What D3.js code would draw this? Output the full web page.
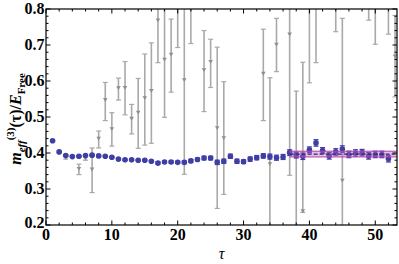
<!DOCTYPE html>
<html>
<head>
<meta charset="utf-8">
<script src="https://cdn.jsdelivr.net/npm/d3@7"></script>
<style>
  body { margin: 0; background: #fff; }
  text { font-family: "Liberation Serif", "Times New Roman", "DejaVu Serif", serif; }
</style>
</head>
<body>
<div id="chart"></div>
<script>
// blue series: m_eff / E_free per tau
var tau = [1, 2, 3, 4, 5, 6, 7, 8, 9, 10, 11, 12, 13, 14, 15, 16, 17, 18, 19, 20,
  21, 22, 23, 24, 25, 26, 27, 28, 29, 30, 31, 32, 33, 34, 35, 36, 37, 38, 39, 40,
  41, 42, 43, 44, 45, 46, 47, 48, 49, 50, 51, 52];
var meff = [0.434, 0.403, 0.393, 0.390, 0.391, 0.393, 0.394, 0.392, 0.391, 0.388,
  0.383, 0.381, 0.381, 0.380, 0.380, 0.377, 0.372, 0.375, 0.375, 0.374,
  0.374, 0.378, 0.382, 0.386, 0.386, 0.374, 0.377, 0.391, 0.377, 0.376,
  0.383, 0.387, 0.392, 0.390, 0.387, 0.389, 0.401, 0.394, 0.391, 0.409,
  0.428, 0.407, 0.392, 0.403, 0.411, 0.396, 0.400, 0.401, 0.392, 0.396,
  0.396, 0.384];
var meffErr = [0.002, 0.002, 0.002, 0.002, 0.002, 0.002, 0.002, 0.002, 0.002, 0.002,
  0.002, 0.002, 0.002, 0.002, 0.002, 0.002, 0.003, 0.003, 0.003, 0.003,
  0.004, 0.004, 0.004, 0.005, 0.005, 0.006, 0.006, 0.006, 0.006, 0.005,
  0.006, 0.006, 0.006, 0.007, 0.007, 0.007, 0.008, 0.008, 0.009, 0.008,
  0.009, 0.008, 0.009, 0.009, 0.009, 0.009, 0.009, 0.009, 0.009, 0.009,
  0.009, 0.009];

// grey series (down triangles), with lower / upper ends of the bars
var tauGrey = [3, 5, 6, 7, 8, 9, 10, 11, 12, 13, 14, 15, 16, 17, 18, 19, 20, 21, 22,
  24, 25, 26, 27, 33, 34, 35, 37, 38, 39, 40, 41, 44, 45, 49, 50, 52, 53];
var grey = [0.387, 0.357, 0.385, 0.355, 0.441, 0.548, 0.467, 0.581, 0.582, 0.496,
  0.513, 0.553, 0.573, 0.769, 0.660, 0.674, 0.860, 0.603, 0.870,
  0.631, 0.654, 0.470, 0.442, 0.621, 0.370, 0.702, 0.730, 0.140, 0.239, 0.900,
  0.920, 0.900, 0.324, 0.880, 0.870, 0.880, 0.669];
var greyLo = [0.383, 0.340, 0.380, 0.290, 0.414, 0.490, 0.419, 0.547, 0.506, 0.453,
  0.413, 0.422, 0.427, 0.651, 0.499, 0.569, 0.693, 0.341, 0.704,
  0.515, 0.582, 0.246, 0.285, 0.490, 0.131, 0.626, 0.338, -0.290, 0.235, 0.595,
  0.651, 0.737, -0.126, 0.769, 0.702, 0.730, 0.556];
var greyHi = [0.391, 0.369, 0.390, 0.414, 0.461, 0.596, 0.512, 0.608, 0.654, 0.535,
  0.607, 0.675, 0.706, 0.887, 0.821, 0.772, 1.027, 0.865, 1.036,
  0.740, 0.716, 0.694, 0.598, 0.744, 0.609, 0.774, 1.122, 0.572, 0.652, 1.205,
  1.190, 1.060, 0.774, 0.990, 1.040, 1.030, 0.782];

// plateau fit
var fitRange = [37, 53.3];
var fitValue = 0.397;
var fitErr = 0.008;

var xTicks = [0, 10, 20, 30, 40, 50];
var yTicks = [0.2, 0.3, 0.4, 0.5, 0.6, 0.7, 0.8];

var W = 399, H = 264;
var margin = {top: 9, right: 2, bottom: 39, left: 46};
var serif = "'Liberation Serif', 'Times New Roman', 'DejaVu Serif', serif";

var svg = d3.select("#chart").append("svg")
  .attr("width", W)
  .attr("height", H);

var x = d3.scaleLinear().domain([0, 53.3]).range([margin.left, W - margin.right]);
var y = d3.scaleLinear().domain([0.2, 0.8]).range([H - margin.bottom, margin.top]);

svg.append("clipPath").attr("id", "clip")
  .append("rect")
  .attr("x", x.range()[0]).attr("y", y.range()[1])
  .attr("width", x.range()[1] - x.range()[0])
  .attr("height", y.range()[0] - y.range()[1]);

var plot = svg.append("g").attr("clip-path", "url(#clip)");

// grey error bars
var greyData = tauGrey.map(function(t, i) {
  return {t: t, v: grey[i], lo: greyLo[i], hi: greyHi[i]};
});
var gg = plot.append("g").attr("class", "grey");
gg.selectAll("line.bar").data(greyData).enter().append("line")
  .attr("x1", function(d) { return x(d.t); })
  .attr("x2", function(d) { return x(d.t); })
  .attr("y1", function(d) { return y(d.lo); })
  .attr("y2", function(d) { return y(d.hi); })
  .attr("stroke", "#a9a9a9")
  .attr("stroke-width", 1.6);
["lo", "hi"].forEach(function(k) {
  gg.selectAll("line.cap" + k).data(greyData).enter().append("line")
    .attr("x1", function(d) { return x(d.t) - 2.5; })
    .attr("x2", function(d) { return x(d.t) + 2.5; })
    .attr("y1", function(d) { return y(d[k]); })
    .attr("y2", function(d) { return y(d[k]); })
    .attr("stroke", "#a9a9a9")
    .attr("stroke-width", 1.2);
});
gg.selectAll("path.tri").data(greyData).enter().append("path")
  .attr("transform", function(d) { return "translate(" + x(d.t) + "," + y(d.v) + ")"; })
  .attr("d", "M-2.3,-1.6L2.3,-1.6L0,2.2Z")
  .attr("fill", "#8f8f8f");

// blue points with error bars
var blue = tau.map(function(t, i) { return {t: t, v: meff[i], e: meffErr[i]}; });
var bg = plot.append("g").attr("class", "blue");
var blueCol = "#3e3ea4";
bg.selectAll("line.bar").data(blue).enter().append("line")
  .attr("x1", function(d) { return x(d.t); })
  .attr("x2", function(d) { return x(d.t); })
  .attr("y1", function(d) { return y(d.v - d.e); })
  .attr("y2", function(d) { return y(d.v + d.e); })
  .attr("stroke", blueCol)
  .attr("stroke-width", 1.3);
[-1, 1].forEach(function(s) {
  bg.selectAll("line.cap" + s).data(blue).enter().append("line")
    .attr("x1", function(d) { return x(d.t) - 2.5; })
    .attr("x2", function(d) { return x(d.t) + 2.5; })
    .attr("y1", function(d) { return y(d.v + s * d.e); })
    .attr("y2", function(d) { return y(d.v + s * d.e); })
    .attr("stroke", blueCol)
    .attr("stroke-width", 1.2);
});
bg.selectAll("circle").data(blue).enter().append("circle")
  .attr("cx", function(d) { return x(d.t); })
  .attr("cy", function(d) { return y(d.v); })
  .attr("r", 2.8)
  .attr("fill", blueCol);

// fit band
var fg = plot.append("g").attr("class", "fit");
fg.append("rect")
  .attr("x", x(fitRange[0]))
  .attr("width", x(fitRange[1]) - x(fitRange[0]))
  .attr("y", y(fitValue + fitErr))
  .attr("height", y(fitValue - fitErr) - y(fitValue + fitErr))
  .attr("fill", "#c060c0")
  .attr("fill-opacity", 0.4);
[fitValue - fitErr, fitValue + fitErr].forEach(function(v) {
  fg.append("line")
    .attr("x1", x(fitRange[0])).attr("x2", x(fitRange[1]))
    .attr("y1", y(v)).attr("y2", y(v))
    .attr("stroke", "#b040b0").attr("stroke-width", 1);
});
fg.append("line")
  .attr("x1", x(fitRange[0])).attr("x2", x(fitRange[1]))
  .attr("y1", y(fitValue)).attr("y2", y(fitValue))
  .attr("stroke", "#2c2470").attr("stroke-width", 1.2)
  .attr("stroke-dasharray", "4,2");

// frame and ticks (Mathematica style, ticks inside on all sides)
var x0 = x.range()[0], x1 = x.range()[1], y0 = y.range()[0], y1 = y.range()[1];
svg.append("rect")
  .attr("x", x0).attr("y", y1)
  .attr("width", x1 - x0).attr("height", y0 - y1)
  .attr("fill", "none").attr("stroke", "#000").attr("stroke-width", 1.2);

var xMinor = d3.range(0, 53.3, 2).filter(function(v) { return v % 10 !== 0; });
var yMinor = d3.range(0.2, 0.8, 0.02).filter(function(v) {
  return Math.abs(Math.round(v * 10) - v * 10) > 1e-6;
});

var ticks = svg.append("g").attr("stroke", "#000").attr("stroke-width", 1);
function tick(xa, ya, xb, yb) {
  ticks.append("line").attr("x1", xa).attr("y1", ya).attr("x2", xb).attr("y2", yb);
}
xTicks.forEach(function(v) {
  tick(x(v), y0, x(v), y0 - 4.5);
  tick(x(v), y1, x(v), y1 + 4.5);
});
xMinor.forEach(function(v) {
  tick(x(v), y0, x(v), y0 - 2.5);
  tick(x(v), y1, x(v), y1 + 2.5);
});
yTicks.forEach(function(v) {
  tick(x0, y(v), x0 + 4.5, y(v));
  tick(x1, y(v), x1 - 4.5, y(v));
});
yMinor.forEach(function(v) {
  tick(x0, y(v), x0 + 2.5, y(v));
  tick(x1, y(v), x1 - 2.5, y(v));
});

// tick labels
svg.append("g").selectAll("text").data(xTicks).enter().append("text")
  .attr("x", function(d) { return x(d); })
  .attr("y", y0 + 15)
  .attr("text-anchor", "middle")
  .attr("font-family", serif)
  .attr("font-size", 16)
  .attr("font-weight", "bold")
  .text(function(d) { return d; });

svg.append("g").selectAll("text").data(yTicks).enter().append("text")
  .attr("x", x0 - 1.5)
  .attr("y", function(d) { return y(d) + (d === 0.2 ? 3 : 5); })
  .attr("text-anchor", "end")
  .attr("font-family", serif)
  .attr("font-size", 16)
  .attr("font-weight", "bold")
  .text(function(d) { return d.toFixed(1); });

// axis titles
svg.append("text")
  .attr("x", (x0 + x1) / 2)
  .attr("y", 259)
  .attr("text-anchor", "middle")
  .attr("font-family", serif)
  .attr("font-size", 16)
  .attr("font-style", "italic")
  .text("τ");

var yl = svg.append("text")
  .attr("transform", "translate(21,119) rotate(-90)")
  .attr("text-anchor", "middle")
  .attr("font-family", serif)
  .attr("font-size", 16)
  .attr("font-weight", "bold");
yl.append("tspan").attr("font-style", "italic").text("m");
yl.append("tspan").attr("font-style", "italic").attr("font-size", 11).attr("dy", 4).text("eff");
yl.append("tspan").attr("font-size", 11).attr("dy", -11).text("(3)");
yl.append("tspan").attr("dy", 7).text("(τ)/");
yl.append("tspan").attr("font-style", "italic").text("E");
yl.append("tspan").attr("font-size", 11).attr("dy", 4).text("Free");
</script>
</body>
</html>
